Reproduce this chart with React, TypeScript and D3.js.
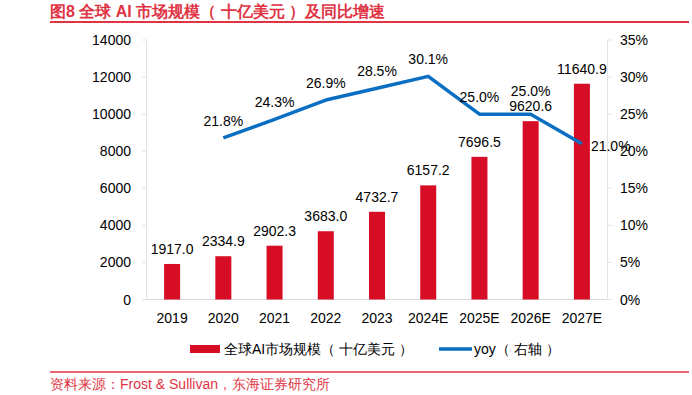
import React from "react";
import { scaleBand, scaleLinear, line } from "d3";

const years = ["2019", "2020", "2021", "2022", "2023", "2024E", "2025E", "2026E", "2027E"];
const marketSize = [1917.0, 2334.9, 2902.3, 3683.0, 4732.7, 6157.2, 7696.5, 9620.6, 11640.9];
const yoyYears = ["2020", "2021", "2022", "2023", "2024E", "2025E", "2026E", "2027E"];
const yoy = [21.8, 24.3, 26.9, 28.5, 30.1, 25.0, 25.0, 21.0];
const leftTicks = [0, 2000, 4000, 6000, 8000, 10000, 12000, 14000];
const rightTicks = [0, 5, 10, 15, 20, 25, 30, 35];

const RED = "#d60d25";
const BLUE = "#0a6fc2";
const TITLE_RED = "#e03444";
const FONT = "'Liberation Sans', Arial, sans-serif";

const App = () => {
  const x = scaleBand().domain(years).range([146.5, 607.5]);
  const yL = scaleLinear().domain([0, 14000]).range([299.5, 40]);
  const yR = scaleLinear().domain([0, 35]).range([299.5, 40]);
  const barW = 16;
  const cx = (d: string) => (x(d) as number) + x.bandwidth() / 2;

  const path = line<number>()
    .x((d, i) => cx(yoyYears[i]))
    .y((d) => yR(d))(yoy);

  // label nudges so the yoy labels don't sit on the bar labels
  const yoyLabelPos = (i: number) => {
    const px = cx(yoyYears[i]);
    const py = yR(yoy[i]);
    if (i === yoy.length - 1) return { x: px + 9, y: py + 2, anchor: "start" };
    if (i === 6) return { x: px, y: py - 23, anchor: "middle" };
    return { x: px, y: py - 17, anchor: "middle" };
  };

  return (
    <svg width={692} height={395} style={{ position: "absolute", left: 0, top: 0, fontFamily: FONT, whiteSpace: "pre" }}>
      <rect width={692} height={395} fill="#fff" />
      <text x={50} y={17} fill={TITLE_RED} fontSize={16} fontWeight="bold">
        {"图8  全球 AI 市场规模（ 十亿美元 ）及同比增速"}
      </text>
      <line x1={50} x2={689} y1={22} y2={22} stroke={TITLE_RED} strokeWidth={2} />

      {/* left axis */}
      <line x1={146.5} x2={146.5} y1={40} y2={299.5} stroke="#e3e3e3" />
      {leftTicks.map((t) => (
        <g key={t}>
          <line x1={142} x2={146.5} y1={yL(t)} y2={yL(t)} stroke="#e3e3e3" />
          <text x={131} y={yL(t) + 5} textAnchor="end" fontSize={14} fill="#000">
            {t}
          </text>
        </g>
      ))}

      {/* right axis */}
      <line x1={607.5} x2={607.5} y1={40} y2={299.5} stroke="#e3e3e3" />
      {rightTicks.map((t) => (
        <g key={t}>
          <line x1={607.5} x2={612} y1={yR(t)} y2={yR(t)} stroke="#e3e3e3" />
          <text x={620} y={yR(t) + 5} textAnchor="start" fontSize={14} fill="#000">
            {t}%
          </text>
        </g>
      ))}

      {/* x axis */}
      <line x1={146.5} x2={607.5} y1={299.5} y2={299.5} stroke="#d9d9d9" />
      {years.map((d) => (
        <text key={d} x={cx(d)} y={323} textAnchor="middle" fontSize={14} fill="#000">
          {d}
        </text>
      ))}

      {/* bars */}
      {marketSize.map((v, i) => (
        <g key={years[i]}>
          <rect x={cx(years[i]) - barW / 2} y={yL(v)} width={barW} height={yL(0) - yL(v)} fill={RED} />
          <text x={cx(years[i])} y={yL(v) - 10} textAnchor="middle" fontSize={14} fill="#000">
            {v.toFixed(1)}
          </text>
        </g>
      ))}

      {/* yoy line */}
      <path d={path ?? ""} fill="none" stroke={BLUE} strokeWidth={3.5} strokeLinejoin="round" />
      {yoy.map((v, i) => {
        const p = yoyLabelPos(i);
        return (
          <text key={yoyYears[i]} x={p.x} y={p.y + 5} textAnchor={p.anchor as any} fontSize={14} fill="#000">
            {v.toFixed(1)}%
          </text>
        );
      })}

      {/* legend */}
      <rect x={190} y={345} width={30} height={8} fill={RED} />
      <text x={224} y={354} fontSize={14} fill="#000">{"全球AI市场规模（ 十亿美元 ）"}</text>
      <line x1={439} x2={472} y1={349} y2={349} stroke={BLUE} strokeWidth={3.5} />
      <text x={474} y={354} fontSize={14} fill="#000">{"yoy（ 右轴 ）"}</text>

      <line x1={50} x2={689} y1={372} y2={372} stroke={TITLE_RED} strokeWidth={1.5} />
      <text x={50} y={389} fill={TITLE_RED} fontSize={14}>
        资料来源：Frost &amp; Sullivan，东海证券研究所
      </text>
    </svg>
  );
};

export default App;
